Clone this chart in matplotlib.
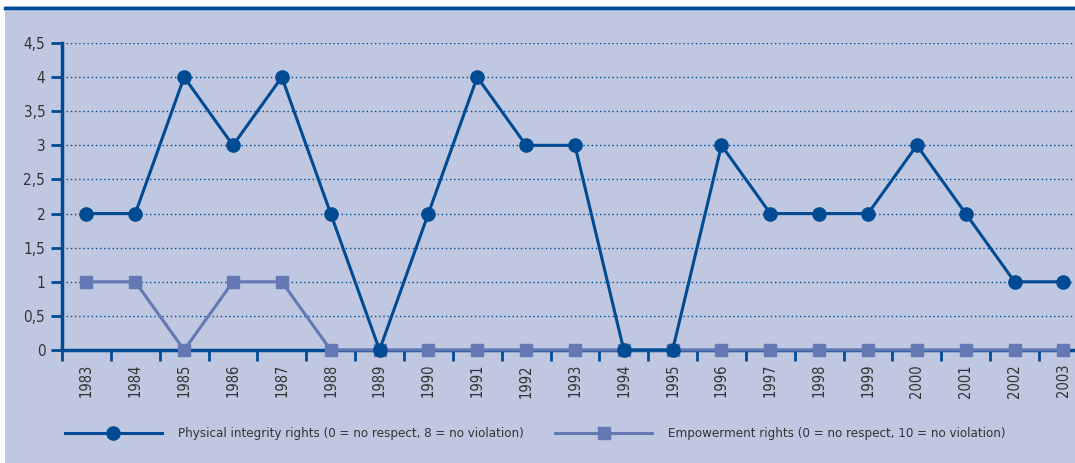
import numpy as np
import matplotlib.pyplot as plt
from matplotlib.patches import Rectangle
from matplotlib.lines import Line2D
from matplotlib.ticker import FixedLocator

years = [str(y) for y in range(1983, 2004)]
physical = [2, 2, 4, 3, 4, 2, 0, 2, 4, 3, 3, 0, 0, 3, 2, 2, 2, 3, 2, 1, 1]
empowerment = [1, 1, 0, 1, 1, 0, 0, 0, 0, 0, 0, 0, 0, 0, 0, 0, 0, 0, 0, 0, 0]
yticks = [0, 0.5, 1, 1.5, 2, 2.5, 3, 3.5, 4, 4.5]
ytick_labels = ['0', '0,5', '1', '1,5', '2', '2,5', '3', '3,5', '4', '4,5']
label_phys = 'Physical integrity rights (0 = no respect, 8 = no violation)'
label_emp = 'Empowerment rights (0 = no respect, 10 = no violation)'

DARK = '#004b93'
LIGHT = '#6478b4'
BG = '#bfc8e0'
TEXT = '#333333'

plt.rcParams['font.family'] = ['Liberation Sans Narrow', 'DejaVu Sans Condensed', 'DejaVu Sans']
plt.rcParams['font.stretch'] = 'condensed'

W, H = 1075, 463
fig = plt.figure(figsize=(W / 100, H / 100), dpi=100)
fig.patch.set_facecolor('white')
fig.add_artist(Rectangle((5 / W, 0), 1, 1 - 6 / H, transform=fig.transFigure,
                         facecolor=BG, edgecolor='none', zorder=-10))
fig.add_artist(Line2D([5 / W, 1], [1 - 8 / H, 1 - 8 / H], transform=fig.transFigure,
                      color=DARK, lw=2.5))

ax = fig.add_axes([62 / W, 1 - 350 / H, 21 * 48.85 / W, (350 - 43) / H])
ax.set_facecolor('none')

x = np.arange(len(years))
ax.plot(x, empowerment, color=LIGHT, lw=2.2, marker='s', ms=8, zorder=3, clip_on=False,
        label=label_emp)
ax.plot(x, physical, color=DARK, lw=2.2, marker='o', ms=9.5, zorder=4, clip_on=False,
        label=label_phys)

ax.set_xlim(-0.5, len(years) - 0.5)
ax.set_ylim(0, 4.5)
ax.set_yticks(yticks)
ax.set_yticklabels(ytick_labels)
ax.set_xticks(x)
ax.set_xticklabels(years, rotation=90)
ax.xaxis.set_minor_locator(FixedLocator(np.arange(-0.5, len(years), 1)))

ax.tick_params(axis='x', which='major', length=0, pad=10, labelsize=10.5, labelcolor=TEXT)
ax.tick_params(axis='x', which='minor', length=8, width=2, color=DARK, direction='out')
ax.tick_params(axis='y', length=8, width=2, color=DARK, pad=4, labelsize=11,
               labelcolor=TEXT)

ax.grid(axis='y', linestyle=(0, (1, 2)), color=DARK, lw=1)
for s in ['top', 'right']:
    ax.spines[s].set_visible(False)
ax.spines['left'].set_color(DARK)
ax.spines['left'].set_linewidth(2.5)
ax.spines['bottom'].set_color(DARK)
ax.spines['bottom'].set_linewidth(2.5)
ax.spines['bottom'].set_zorder(2)

handles, labels = ax.get_legend_handles_labels()
leg = fig.legend(handles[::-1], labels[::-1], loc='center left',
                 bbox_to_anchor=(53 / W, 1 - 434 / H), ncol=2, frameon=False,
                 handlelength=7.35, handletextpad=1.2, columnspacing=2.4,
                 fontsize=9.5)
for t in leg.get_texts():
    t.set_color(TEXT)

fig.savefig('out.png', dpi=100, facecolor=fig.get_facecolor())
